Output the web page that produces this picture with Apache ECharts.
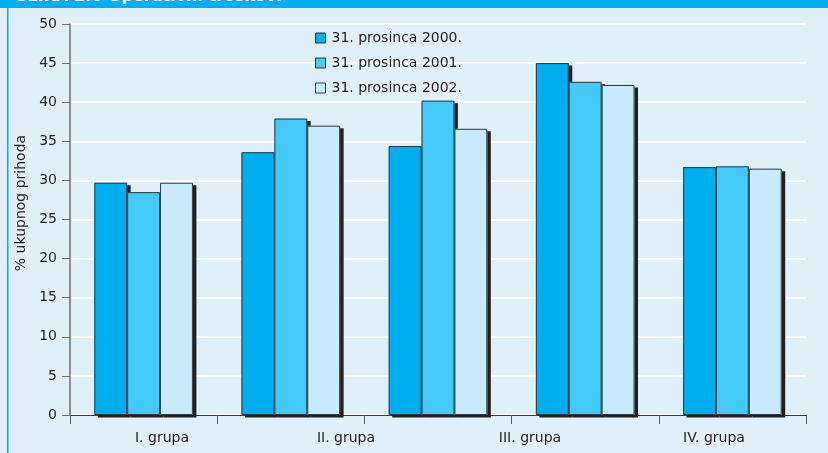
<!DOCTYPE html>
<html>
<head>
<meta charset="utf-8">
<script src="https://cdn.jsdelivr.net/npm/echarts@6/dist/echarts.min.js"></script>
<style>
html,body{margin:0;padding:0;background:#dff0fa;}
#c{width:828px;height:453px;}
</style>
</head>
<body>
<div id="c"></div>
<script>
const barSlots = ['g1', 'g2', 'g3', 'g4', 'g5'];
const groupLabels = ['I. grupa', 'II. grupa', 'III. grupa', 'IV. grupa'];
const seriesNames = ['31. prosinca 2000.', '31. prosinca 2001.', '31. prosinca 2002.'];
const values2000 = [29.7, 33.6, 34.4, 45.0, 31.7];
const values2001 = [28.5, 37.9, 40.2, 42.6, 31.8];
const values2002 = [29.7, 37.0, 36.6, 42.2, 31.5];
const yTicks = { min: 0, max: 50, interval: 5 };
const yAxisTitle = '% ukupnog prihoda';
const titleText = 'SLIKA 2.6 Operativni troškovi';

const colors = ['#00aeef', '#45c9f6', '#c9eafa'];
const textColor = '#231f20';
const font = '"DejaVu Sans", Verdana, sans-serif';

const chart = echarts.init(document.getElementById('c'), null, { renderer: 'canvas' });

function fillSeries(name, data, color) {
  return {
    name: name,
    type: 'bar',
    xAxisIndex: 0,
    data: data,
    barCategoryGap: '33%',
    barGap: '0%',
    z: 2,
    itemStyle: {
      color: color,
      borderWidth: 0,
      shadowColor: '#231f20',
      shadowBlur: 0,
      shadowOffsetX: 3.5,
      shadowOffsetY: 2.5
    },
    emphasis: { disabled: true }
  };
}
function borderSeries(name, data) {
  return {
    name: name + ' (rub)',
    type: 'bar',
    xAxisIndex: 2,
    data: data,
    barCategoryGap: '33%',
    barGap: '0%',
    z: 3,
    silent: true,
    itemStyle: {
      color: 'rgba(0,0,0,0)',
      borderColor: '#2e3a40',
      borderWidth: 1
    },
    emphasis: { disabled: true }
  };
}

chart.setOption({
  backgroundColor: '#dff0fa',
  animation: false,
  textStyle: { fontFamily: font, color: textColor },
  graphic: [
    { type: 'rect', left: 0, top: 0, shape: { width: 828, height: 8 }, style: { fill: '#00aeef' }, z: 10 },
    { type: 'rect', left: 7, top: 0, shape: { width: 1.5, height: 453 }, style: { fill: '#00aeef' }, z: 10 },
    { type: 'text', left: 16, top: -11, style: { text: titleText, fill: '#ffffff', font: 'bold 16px ' + font }, z: 11 },
    {
      type: 'text', x: 21, y: 203, rotation: Math.PI / 2,
      style: { text: yAxisTitle, fill: textColor, font: '14px ' + font, align: 'center', verticalAlign: 'middle' },
      z: 5
    }
  ],
  legend: {
    orient: 'vertical',
    left: 310,
    top: 26,
    itemWidth: 10,
    itemHeight: 10,
    itemGap: 11,
    icon: 'rect',
    textStyle: { fontSize: 14, color: textColor, fontFamily: font, padding: [0, 0, 0, 1] },
    itemStyle: { borderColor: '#2e3a40', borderWidth: 1, shadowBlur: 0, shadowOffsetX: 0, shadowOffsetY: 0, shadowColor: 'rgba(0,0,0,0)' },
    data: seriesNames
  },
  grid: { left: 70, right: 22, top: 24, bottom: 38, containLabel: false },
  xAxis: [
    {
      type: 'category',
      data: barSlots,
      boundaryGap: true,
      axisLine: { lineStyle: { color: '#3a3a3a', width: 1 } },
      axisTick: { show: true, length: 9, lineStyle: { color: '#555' } },
      axisLabel: { show: false },
      splitLine: { show: false }
    },
    {
      type: 'category',
      data: groupLabels,
      position: 'bottom',
      boundaryGap: true,
      axisLine: { show: false },
      axisTick: { show: false },
      axisLabel: { fontSize: 14, color: textColor, margin: 16, fontFamily: font },
      splitLine: { show: false }
    },
    {
      type: 'category',
      data: barSlots,
      position: 'bottom',
      boundaryGap: true,
      show: false
    }
  ],
  yAxis: {
    type: 'value',
    min: yTicks.min,
    max: yTicks.max,
    interval: yTicks.interval,
    axisLine: { show: true, lineStyle: { color: '#6d6e70', width: 1.5 } },
    axisTick: { show: true, length: 8, lineStyle: { color: '#6d6e70' } },
    axisLabel: { fontSize: 14, color: textColor, margin: 13, fontFamily: font },
    splitLine: { show: true, lineStyle: { color: '#ffffff', width: 2 } }
  },
  series: [
    fillSeries(seriesNames[0], values2000, colors[0]),
    fillSeries(seriesNames[1], values2001, colors[1]),
    fillSeries(seriesNames[2], values2002, colors[2]),
    borderSeries(seriesNames[0], values2000),
    borderSeries(seriesNames[1], values2001),
    borderSeries(seriesNames[2], values2002)
  ]
});
</script>
</body>
</html>
